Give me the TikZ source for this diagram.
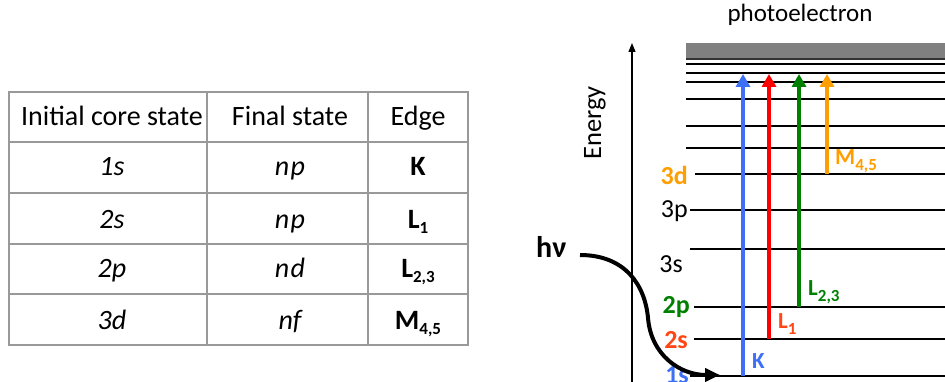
\documentclass[tikz,border=0pt]{standalone}
\usepackage{fontspec}
\setmainfont{Carlito}
\usetikzlibrary{arrows.meta}
\definecolor{kblue}{RGB}{61,112,245}
\definecolor{lred}{RGB}{255,0,0}
\definecolor{lorange}{RGB}{255,70,20}
\definecolor{lgreen}{RGB}{0,128,0}
\definecolor{morange}{RGB}{255,158,0}
\definecolor{band}{RGB}{128,128,128}
\newcommand\tsub[1]{\raisebox{-5pt}{\fontsize{17}{17}\selectfont #1}}
\newcommand\dsub[1]{\raisebox{-6pt}{\fontsize{17}{17}\selectfont #1}}
\tikzset{
  tableline/.style={draw=black!40, line width=1.2pt},
  cell/.style={inner sep=0pt, anchor=base, font=\fontsize{28}{33}\selectfont},
  level/.style={line width=1.8pt, black},
  lvlname/.style={inner sep=0pt, anchor=base east, font=\fontsize{26}{30}\selectfont},
  edgename/.style={inner sep=0pt, anchor=base west, font=\bfseries\fontsize{23}{26}\selectfont},
  excite/.style={line width=4pt, -{Triangle[width=14pt,length=13pt]}},
}
\begin{document}
\begin{tikzpicture}[x=1pt,y=-1pt]
\useasboundingbox (0,0) rectangle (945,382);
\clip (0,0) rectangle (945,382);

% ---- table of edges ----
\draw[tableline] (9,92) rectangle (468,345);
\foreach \yy in {142,193,244,294} \draw[tableline] (9,\yy) -- (468,\yy);
\foreach \xx in {207,368} \draw[tableline] (\xx,92) -- (\xx,345);

\node[cell] (h1) at (112,126) {Initial core state};
\node[cell] (h2) at (290,126) {Final state};
\node[cell] (h3) at (418,126) {Edge};

\node[cell] (i1) at (112,176) {\itshape 1s};
\node[cell] (i2) at (112,229) {\itshape 2s};
\node[cell] (i3) at (112,277) {\itshape 2p};
\node[cell] (i4) at (112,329) {\itshape 3d};

\node[cell] (f1) at (290,176) {\itshape n\kern1.5pt p};
\node[cell] (f2) at (290,229) {\itshape n\kern1.5pt p};
\node[cell] (f3) at (290,277) {\itshape n\kern1.5pt d};
\node[cell] (f4) at (290,329) {\itshape nf};

\node[cell] (e1) at (418,176) {\bfseries K};
\node[cell] (e2) at (418,229) {\bfseries L\tsub{1}};
\node[cell] (e3) at (418,277) {\bfseries L\tsub{2,3}};
\node[cell] (e4) at (418,329) {\bfseries M\tsub{4,5}};

% ---- energy level scheme ----
\coordinate (ebot) at (632,382);
\coordinate (etop) at (632,43);
\draw[line width=1.3pt, -{Triangle[width=7pt,length=9pt]}] (ebot) -- (etop);
\node[rotate=90, inner sep=0pt, font=\fontsize{26.5}{30}\selectfont] (energy) at (595,123) {Energy};

\node[inner sep=0pt, font=\fontsize{25}{29}\selectfont] (photo) at (800,15) {photoelectron};
\fill[band] (686,43) rectangle (945,59);
\draw[line width=1.2pt, black!80] (686,59) -- (945,59);

\foreach \yy in {64,73,82,99,126,148} \draw[level] (686,\yy) -- (945,\yy);

\coordinate (l3d) at (695,174);
\coordinate (l3p) at (690,210);
\coordinate (l3s) at (690,249);
\coordinate (l2p) at (694,307);
\coordinate (l2s) at (694,339);
\coordinate (l1s) at (690,376);
\foreach \c in {l3d,l3p,l3s,l2p,l2s,l1s} \draw[level] (\c) -- (945,0 |- \c);

\node[lvlname, font=\bfseries\fontsize{26}{30}\selectfont, text=morange] (n3d) at (688,185) {3d};
\node[lvlname] (n3p) at (688,218) {3p};
\node[lvlname] (n3s) at (683,272) {3s};
\node[lvlname, font=\bfseries\fontsize{26}{30}\selectfont, text=lgreen] (n2p) at (690,313) {2p};
\node[lvlname, font=\bfseries\fontsize{26}{30}\selectfont, text=lorange] (n2s) at (688,348) {2s};
\node[lvlname, font=\bfseries\fontsize{26}{30}\selectfont, text=kblue] (n1s) at (689,383) {1s};

% excitations into the continuum
\coordinate (kb) at (743,376);  \coordinate (kt) at (743,74);
\coordinate (l1b) at (769,339); \coordinate (l1t) at (769,74);
\coordinate (l2b) at (799,307); \coordinate (l2t) at (799,74);
\coordinate (mb) at (827,174);  \coordinate (mt) at (827,74);
\draw[excite, kblue] (kb) -- (kt);
\draw[excite, lred] (l1b) -- (l1t);
\draw[excite, lgreen] (l2b) -- (l2t);
\draw[excite, morange] (mb) -- (mt);

\node[edgename, text=kblue] (lk) at (752,368) {K};
\node[edgename, text=lorange] (ll1) at (778,328) {L\dsub{1}};
\node[edgename, text=lgreen] (ll23) at (808,295) {L\dsub{2,3}};
\node[edgename, text=morange] (lm45) at (835,165) {M\dsub{4,5}};

% incoming photon
\node[inner sep=0pt, anchor=base west, font=\bfseries\fontsize{30}{34}\selectfont] (hv) at (536,258) {hν};
\coordinate (hvs) at (580,255);
\coordinate (hvm) at (648,318);
\coordinate (hve) at (720,375);
\draw[line width=4pt, -{Triangle[width=13pt,length=15pt]}]
  (hvs) .. controls (625,255) and (645,285) .. (hvm)
        .. controls (651,355) and (680,375) .. (hve);
\end{tikzpicture}
\end{document}
